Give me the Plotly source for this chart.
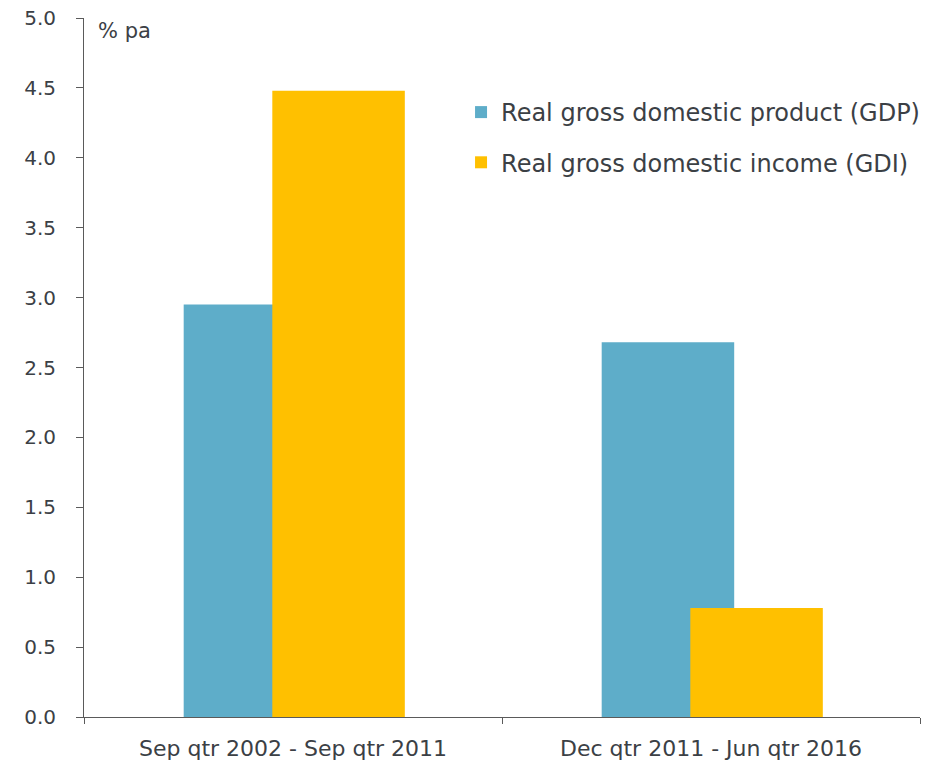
import plotly.graph_objects as go

categories = ["Sep qtr 2002 - Sep qtr 2011", "Dec qtr 2011 - Jun qtr 2016"]
gdp = [2.95, 2.68]
gdi = [4.48, 0.78]
series_names = ["Real gross domestic product (GDP)", "Real gross domestic income (GDI)"]
y_ticks = [0.0, 0.5, 1.0, 1.5, 2.0, 2.5, 3.0, 3.5, 4.0, 4.5, 5.0]
y_tick_labels = ["0.0", "0.5", "1.0", "1.5", "2.0", "2.5", "3.0", "3.5", "4.0", "4.5", "5.0"]

FONT = "DejaVu Sans"
TXT = "#3b4045"

fig = go.Figure()
fig.add_trace(go.Bar(x=categories, y=gdp, name=series_names[0],
                     marker=dict(color="#5eadc9", line=dict(width=0)),
                     width=0.317, offset=-0.2615, legendgroup="a"))
fig.add_trace(go.Bar(x=categories, y=gdi, name=series_names[1],
                     marker=dict(color="#ffc000", line=dict(width=0)),
                     width=0.317, offset=-0.0495, legendgroup="b"))

fig.update_layout(
    width=946, height=764,
    margin=dict(l=84, r=26, t=18, b=47),
    barmode="overlay",
    plot_bgcolor="white", paper_bgcolor="white",
    font=dict(family=FONT, size=20, color=TXT),
    showlegend=True,
    legend=dict(x=0.451, y=0.897, xanchor="left", yanchor="top",
                font=dict(family=FONT, size=24, color=TXT),
                traceorder="grouped", tracegroupgap=16,
                bgcolor="rgba(0,0,0,0)"),
    xaxis=dict(type="category", showline=True, linecolor="#5a5a5a", linewidth=1,
               ticks="outside", tickson="boundaries", ticklen=6, tickcolor="#5a5a5a",
               showgrid=False, zeroline=False, range=[-0.5, 1.5],
               ticklabelstandoff=12, automargin=False,
               tickfont=dict(family=FONT, size=22, color=TXT)),
    yaxis=dict(range=[0, 5.0], tickvals=y_ticks, ticktext=y_tick_labels,
               showline=True, linecolor="#5a5a5a", linewidth=1,
               ticks="outside", ticklen=7, tickcolor="#5a5a5a",
               showgrid=False, zeroline=False, ticklabelstandoff=16,
               automargin=False,
               tickfont=dict(family=FONT, size=20, color=TXT)),
)
fig.add_annotation(text="% pa", xref="paper", yref="paper", x=0.014, y=1.002,
                   xanchor="left", yanchor="top", showarrow=False,
                   font=dict(family=FONT, size=21, color=TXT))

fig.write_html("out.html")
